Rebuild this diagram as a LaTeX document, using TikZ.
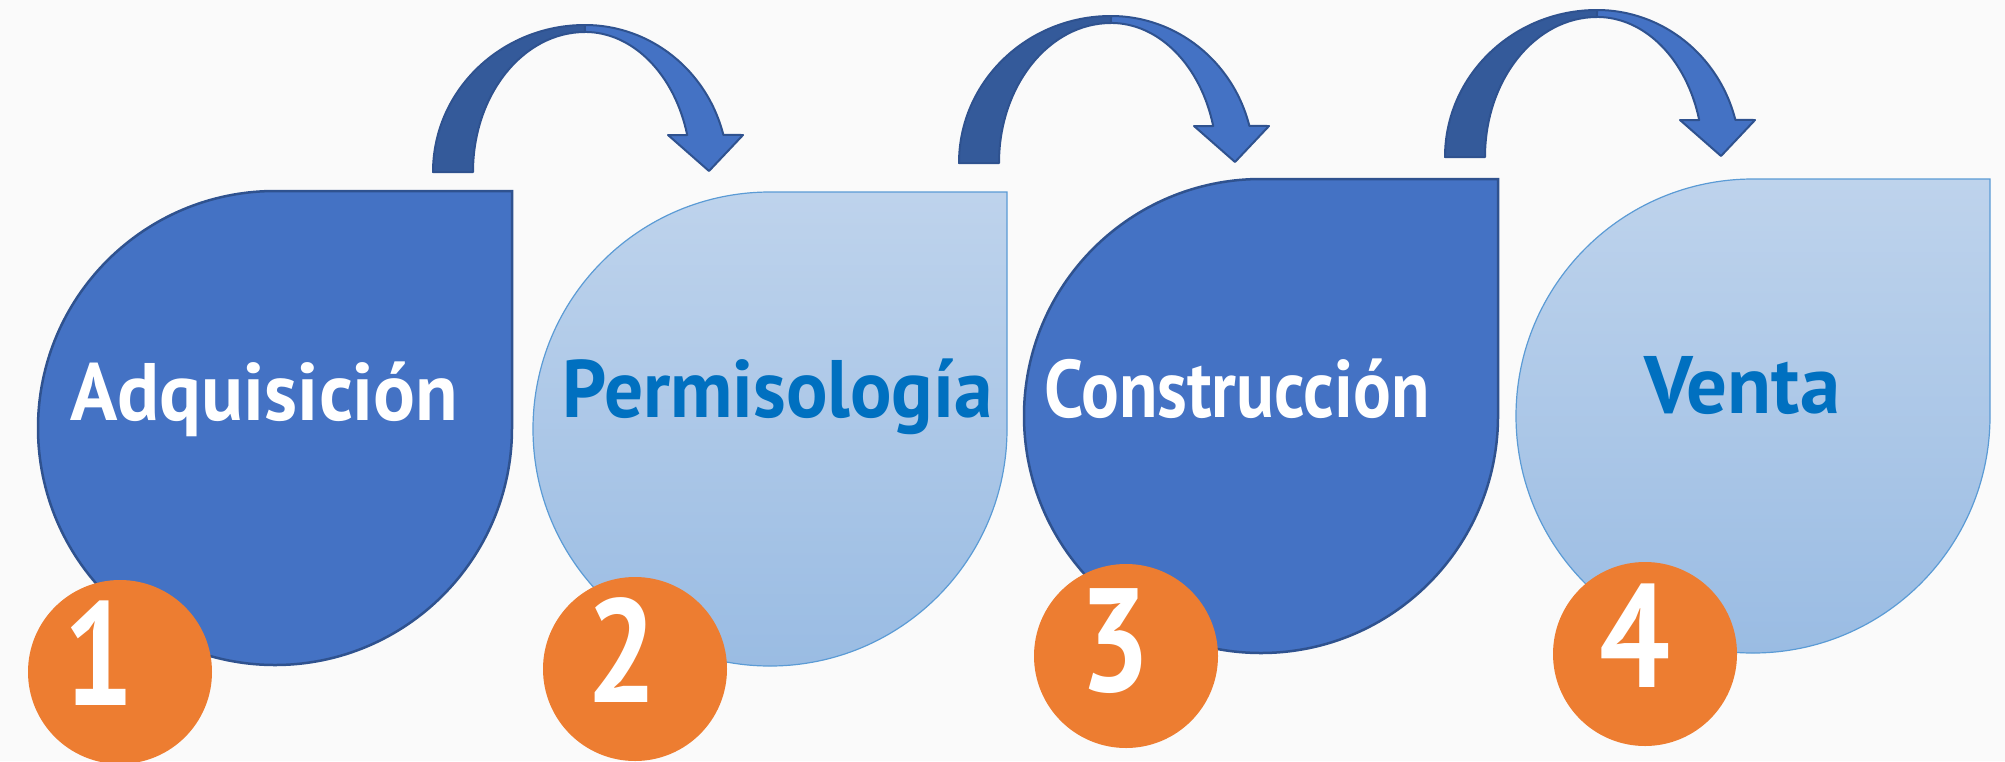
\documentclass[tikz,border=0pt]{standalone}
\usepackage{fontspec}
\setmainfont{PT Sans}
\definecolor{bg}{HTML}{FAFAFA}
\definecolor{dblue}{HTML}{4472C4}
\definecolor{dline}{HTML}{2F528F}
\definecolor{dback}{HTML}{345A9A}
\definecolor{ltop}{HTML}{BED3EC}
\definecolor{lbot}{HTML}{9ABCE3}
\definecolor{lline}{HTML}{5B9BD5}
\definecolor{txtblue}{HTML}{0070C0}
\definecolor{orng}{HTML}{ED7D31}
\newsavebox\lblbox
% fit text horizontally to a given width (pt), keeping its height
\newcommand\fitw[2]{\sbox\lblbox{#2}\pgfmathsetmacro\lblsx{#1/\wd\lblbox}\scalebox{\lblsx}[1]{\usebox\lblbox}}
\newcommand\dropshape[3]{%
  \path[#1] (#2+237,#3-237) -- (#2+237,#3) arc[start angle=0,end angle=270,radius=237] -- cycle;}
\newcommand\uarrow[2]{%
  \begin{scope}[shift={(#1,#2)}]
    \path[backband] (433,172) arc[start angle=180,end angle=270,x radius=152,y radius=147]
      -- (585,32) arc[start angle=270,end angle=180,x radius=112,y radius=140] -- cycle;
    \path[frontband] (585,25) arc[start angle=270,end angle=345.4,x radius=143,y radius=147]
      -- (743,135) -- (709,171) -- (668,135) -- (687.2,135)
      arc[start angle=344.7,end angle=270,x radius=106,y radius=140] -- cycle;
  \end{scope}}
\begin{document}
\begin{tikzpicture}[x=1pt,y=-1pt,
  darkdrop/.style={fill=dblue, draw=dline, line width=2.5pt},
  lightdrop/.style={top color=ltop, bottom color=lbot, draw=lline, line width=1.2pt},
  backband/.style={fill=dback, draw=dline, line width=2pt, line join=round},
  frontband/.style={fill=dblue, draw=dline, line width=2pt, line join=round},
  numc/.style={circle, fill=orng, minimum size=184pt, inner sep=0pt},
  digit/.style={text=white, font=\bfseries\fontsize{147}{147}\selectfont, anchor=base, inner sep=0pt},
  lbl/.style={font=\bfseries\fontsize{81.5}{81.5}\selectfont, anchor=base, inner sep=0pt}]
\fill[bg] (0,0) rectangle (2005,761);
\useasboundingbox (0,0) rectangle (2005,761);
% arrows
\uarrow{0}{0}
\uarrow{526}{-9}
\uarrow{1012}{-15}
% drops
\dropshape{darkdrop}{275}{428}
\dropshape{lightdrop}{770}{429}
\dropshape{darkdrop}{1261}{416}
\dropshape{lightdrop}{1753}{416}
% labels
\node[lbl, text=white] (t1) at (264.5,420) {\fitw{388}{Adquisición}};
\node[lbl, text=txtblue] (t2) at (777.5,417) {\fitw{430}{Permisología}};
\node[lbl, text=white] (t3) at (1237,417) {\fitw{385}{Construcción}};
\node[lbl, text=txtblue] (t4) at (1742,413) {\fitw{196}{Venta}};
% number circles
\node[numc] (c1) at (120,672) {};
\node[numc] (c2) at (635,669) {};
\node[numc] (c3) at (1126,656) {};
\node[numc] (c4) at (1645,654) {};
\node[digit] (d1) at (99,705) {\scalebox{0.85}[1]{1}};
\node[digit] (d2) at (622,702) {\scalebox{0.85}[1]{2}};
\node[digit] (d3) at (1115,691) {\scalebox{0.85}[1]{3}};
\node[digit] (d4) at (1635,687) {\scalebox{0.85}[1]{4}};
\end{tikzpicture}
\end{document}
